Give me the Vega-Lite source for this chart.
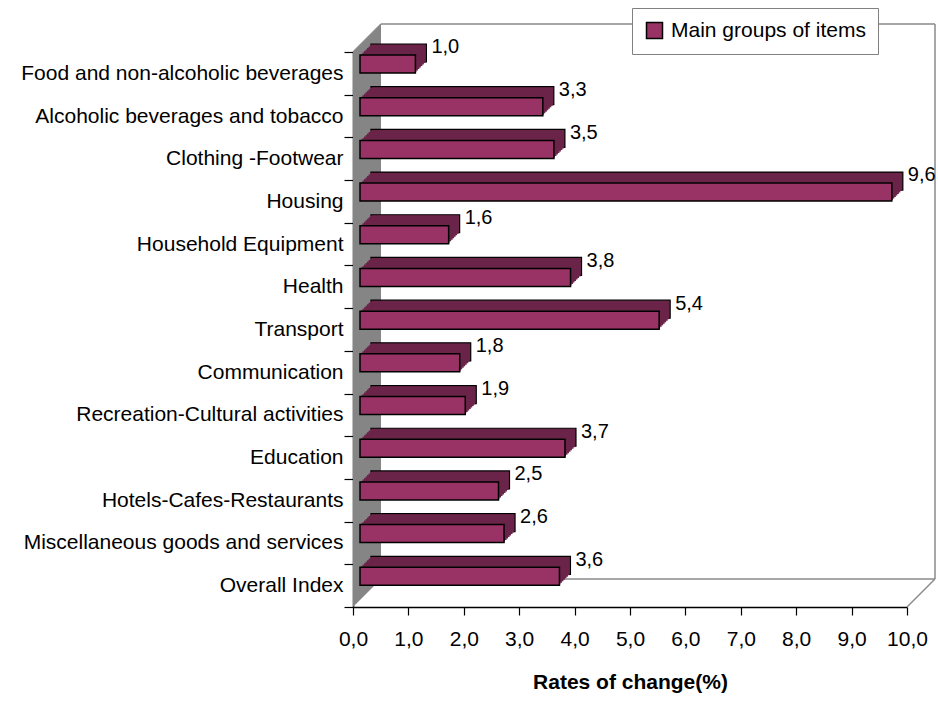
{
  "$schema": "https://vega.github.io/schema/vega-lite/v6.json",
  "width": 554,
  "height": 555,
  "autosize": {"type": "none"},
  "padding": {"left": 353, "top": 52, "right": 31, "bottom": 96},
  "background": "white",
  "config": {
    "font": "Liberation Sans",
    "view": {"stroke": null},
    "locale": {"number": {"decimal": ",", "thousands": ".", "grouping": [3], "currency": ["", ""]}}
  },
  "data": {"values": [
    {"category": "Food and non-alcoholic beverages", "value": 1.0},
    {"category": "Alcoholic beverages and tobacco", "value": 3.3},
    {"category": "Clothing -Footwear", "value": 3.5},
    {"category": "Housing", "value": 9.6},
    {"category": "Household Equipment", "value": 1.6},
    {"category": "Health", "value": 3.8},
    {"category": "Transport", "value": 5.4},
    {"category": "Communication", "value": 1.8},
    {"category": "Recreation-Cultural activities", "value": 1.9},
    {"category": "Education", "value": 3.7},
    {"category": "Hotels-Cafes-Restaurants", "value": 2.5},
    {"category": "Miscellaneous goods and services", "value": 2.6},
    {"category": "Overall Index", "value": 3.6}
  ]},
  "layer": [
    {
      "data": {"values": [{}]},
      "encoding": {
        "y": {"datum": 0, "type": "quantitative", "scale": {"domain": [0, 13], "reverse": true, "nice": false, "zero": false}, "axis": null}
      },
      "layer": [
        {
          "mark": {"type": "point", "shape": "M0,0L0,-555L28,-583L28,-28Z", "size": 4, "filled": true, "fill": "#858585", "strokeWidth": 0, "opacity": 1},
          "encoding": {"x": {"datum": 0, "type": "quantitative"}, "y": {"datum": 13, "type": "quantitative"}}
        },
        {
          "mark": {"type": "rule", "color": "#8a8a8a", "strokeWidth": 1.5, "xOffset": 28, "x2Offset": 28, "yOffset": -28},
          "encoding": {"x": {"datum": 0, "type": "quantitative"}, "x2": {"datum": 10}, "y": {"datum": 0, "type": "quantitative"}}
        },
        {
          "mark": {"type": "rule", "color": "#8a8a8a", "strokeWidth": 1.5, "xOffset": 28, "x2Offset": 28, "yOffset": -28},
          "encoding": {"x": {"datum": 0, "type": "quantitative"}, "x2": {"datum": 10}, "y": {"datum": 13, "type": "quantitative"}}
        },
        {
          "mark": {"type": "rule", "color": "#8a8a8a", "strokeWidth": 1.5, "xOffset": 28, "yOffset": -28, "y2Offset": -28},
          "encoding": {"x": {"datum": 10, "type": "quantitative"}, "y": {"datum": 0, "type": "quantitative"}, "y2": {"datum": 13}}
        },
        {
          "mark": {"type": "rule", "color": "#8a8a8a", "strokeWidth": 1.5, "x2Offset": 28, "y2Offset": -28},
          "encoding": {"x": {"datum": 0, "type": "quantitative"}, "x2": {"datum": 0}, "y": {"datum": 0, "type": "quantitative"}, "y2": {"datum": 0}}
        },
        {
          "mark": {"type": "rule", "color": "#8a8a8a", "strokeWidth": 1.5, "x2Offset": 28, "y2Offset": -28},
          "encoding": {"x": {"datum": 10, "type": "quantitative"}, "x2": {"datum": 10}, "y": {"datum": 13, "type": "quantitative"}, "y2": {"datum": 13}}
        }
      ]
    },
    {
      "encoding": {
        "x": {
          "field": "value", "type": "quantitative",
          "scale": {"domain": [0, 10], "nice": false, "zero": true},
          "axis": {
            "values": [0, 1, 2, 3, 4, 5, 6, 7, 8, 9, 10], "format": ".1f",
            "grid": false, "domainColor": "black", "domainWidth": 1.5,
            "tickColor": "black", "tickSize": 8, "tickWidth": 1.2,
            "labelFontSize": 21, "labelColor": "black", "labelPadding": 13, "labelFlush": false,
            "title": "Rates of change(%)", "titleFontSize": 21, "titleFontWeight": "bold", "titleColor": "black", "titlePadding": 22
          }
        },
        "y": {
          "field": "category", "type": "nominal", "sort": null,
          "scale": {"paddingInner": 0, "paddingOuter": 0},
          "axis": {
            "title": null, "domainColor": "black", "domainWidth": 1.5,
            "tickColor": "black", "tickSize": 9, "tickWidth": 1.2, "tickBand": "extent",
            "labelFontSize": 21, "labelColor": "black", "labelPadding": 1, "labelLimit": 0
          }
        }
      },
      "layer": [
        {"mark": {"type": "bar", "height": 18, "xOffset": 18, "x2Offset": 18, "yOffset": -20.35, "fill": "#6B2449", "stroke": "black", "strokeWidth": 1.2}},
        {"mark": {"type": "bar", "height": 18, "xOffset": 17, "x2Offset": 17, "yOffset": -19.35, "fill": "#6B2449", "strokeWidth": 0}},
        {"mark": {"type": "bar", "height": 18, "xOffset": 15.5, "x2Offset": 15.5, "yOffset": -17.85, "fill": "#6B2449", "strokeWidth": 0}},
        {"mark": {"type": "bar", "height": 18, "xOffset": 14, "x2Offset": 14, "yOffset": -16.35, "fill": "#6B2449", "strokeWidth": 0}},
        {"mark": {"type": "bar", "height": 18, "xOffset": 12.5, "x2Offset": 12.5, "yOffset": -14.85, "fill": "#6B2449", "strokeWidth": 0}},
        {"mark": {"type": "bar", "height": 18, "xOffset": 11, "x2Offset": 11, "yOffset": -13.35, "fill": "#6B2449", "strokeWidth": 0}},
        {"mark": {"type": "bar", "height": 18, "xOffset": 9.5, "x2Offset": 9.5, "yOffset": -11.85, "fill": "#6B2449", "strokeWidth": 0}},
        {"mark": {"type": "bar", "height": 18, "xOffset": 8, "x2Offset": 8, "yOffset": -10.35, "fill": "#6B2449", "strokeWidth": 0}},
        {
          "mark": {"type": "bar", "height": 18, "xOffset": 7, "x2Offset": 7, "yOffset": -9.35, "stroke": "black", "strokeWidth": 1.5, "opacity": 1},
          "encoding": {
            "color": {
              "datum": "Main groups of items", "type": "nominal",
              "scale": {"range": ["#993366"]},
              "legend": {
                "title": null, "orient": "none", "legendX": 279, "legendY": -44,
                "padding": 12, "strokeColor": "#808080", "fillColor": "white",
                "symbolType": "square", "symbolSize": 256, "symbolStrokeColor": "black", "symbolStrokeWidth": 1.5, "symbolOpacity": 1,
                "labelFontSize": 21, "labelColor": "black", "labelOffset": 6, "labelLimit": 0
              }
            }
          }
        },
        {
          "mark": {"type": "text", "align": "left", "baseline": "middle", "dx": 23, "dy": -26, "fontSize": 20, "color": "black"},
          "encoding": {"text": {"field": "value", "type": "quantitative", "format": ".1f"}}
        }
      ]
    }
  ],
  "resolve": {"scale": {"y": "independent"}, "axis": {"y": "independent"}}
}
